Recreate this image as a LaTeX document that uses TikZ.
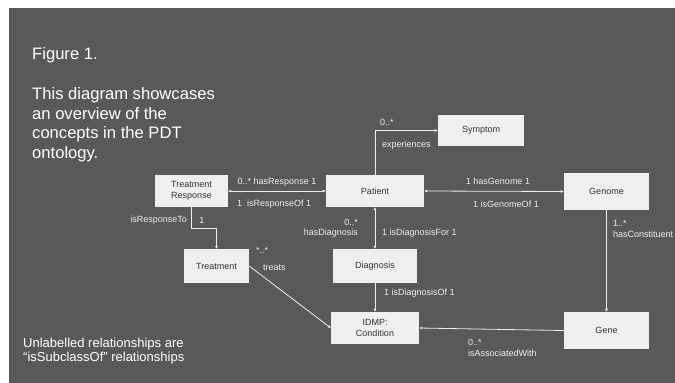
\documentclass[tikz,border=0pt]{standalone}
\usepackage{fontspec}
\setmainfont{Liberation Sans}
\usetikzlibrary{arrows.meta}
\definecolor{bg}{HTML}{595959}
\definecolor{boxfill}{HTML}{EFEFEF}
\definecolor{boxtext}{HTML}{333333}
\definecolor{linec}{HTML}{EEEEEE}
\begin{document}
\begin{tikzpicture}[x=1pt,y=-1pt,
  box/.style={fill=boxfill, text=boxtext, font=\fontsize{9}{10.5}\selectfont, align=center, inner sep=0pt},
  lbl/.style={text=linec, font=\fontsize{9}{10}\selectfont, inner sep=0pt},
  conn/.style={draw=linec, line width=0.8pt},
  arr/.style={conn, -{Latex[length=3pt,width=3pt]}},
  darr/.style={conn, {Latex[length=3pt,width=3pt]}-{Latex[length=3pt,width=3pt]}},
  big/.style={text=white, font=\fontsize{16.6}{19.8}\selectfont, align=left, inner sep=0pt, anchor=north west},
  note/.style={text=white, font=\fontsize{13}{14}\selectfont, align=left, inner sep=0pt, anchor=north west}
]
\useasboundingbox (0,0) rectangle (675,383);
\fill[white] (0,0) rectangle (675,383);
\fill[bg] (9,8) rectangle (675,383);

% left texts
\node[big] (fig) at (32,47) {Figure 1.};
\node[big] (desc) at (32,87) {This diagram showcases\\an overview of the\\concepts in the PDT\\ontology.};
\node[note] (unl) at (23,338) {Unlabelled relationships are\\``isSubclassOf'' relationships};

% boxes
\node[box, minimum width=86pt, minimum height=31pt] (sym) at (481,130.5) {Symptom};
\node[box, minimum width=98pt, minimum height=32pt] (pat) at (375,191) {Patient};
\node[box, minimum width=73pt, minimum height=32pt] (tr) at (191.5,191) {Treatment\\Response};
\node[box, minimum width=85pt, minimum height=37pt] (gnm) at (606.5,191.5) {Genome};
\node[box, minimum width=65pt, minimum height=34pt] (trt) at (216.5,266) {Treatment};
\node[box, minimum width=84pt, minimum height=34pt] (dia) at (375,266) {Diagnosis};
\node[box, minimum width=88pt, minimum height=32pt] (con) at (375,328) {IDMP:\\Condition};
\node[box, minimum width=85pt, minimum height=37pt] (gen) at (606.5,330.5) {Gene};

% connectors
\draw[darr] (tr.east) -- (pat.west);
\draw[darr] (pat.east) -- (gnm.west);
\draw[arr] (pat.north) |- (sym.west);
\draw[arr] (tr.south) -- (tr.south |- 0,228) -| (trt.north);
\draw[darr] (dia.north) -- (pat.south);
\draw[arr] (dia.south) -- (con.north);
\draw[arr] (trt.east) -- (con.west);
\draw[arr] (gnm.south) -- (gen.north);
\draw[arr] (gen.west) -- (con.east);

% labels
\node[lbl] (l1) at (277,182) {0..* hasResponse 1};
\node[lbl, anchor=west] (l2) at (237,204) {1 \ isResponseOf 1};
\node[lbl, anchor=east] (l3) at (187,220) {isResponseTo};
\node[lbl] (l4) at (202,220) {1};
\node[lbl, anchor=west] (l5) at (380,122) {0..*};
\node[lbl, anchor=west] (l6) at (382,145) {experiences};
\node[lbl] (l7) at (498,181) {1 hasGenome 1};
\node[lbl] (l8) at (506,204) {1 isGenomeOf 1};
\node[lbl, anchor=east] (l9) at (358,222) {0..*};
\node[lbl, anchor=east] (l10) at (358,233) {hasDiagnosis};
\node[lbl, anchor=west] (l11) at (382,233) {1 isDiagnosisFor 1};
\node[lbl, anchor=west] (l12) at (384,293) {1 isDiagnosisOf 1};
\node[lbl, anchor=west] (l13) at (256,250) {*..*};
\node[lbl, anchor=west] (l14) at (263,268) {treats};
\node[lbl, anchor=west] (l15) at (613,223) {1..*};
\node[lbl, anchor=west] (l16) at (613,234) {hasConstituent};
\node[lbl, anchor=west] (l17) at (468,342) {0..*};
\node[lbl, anchor=west] (l18) at (468,353) {isAssociatedWith};
\end{tikzpicture}
\end{document}
